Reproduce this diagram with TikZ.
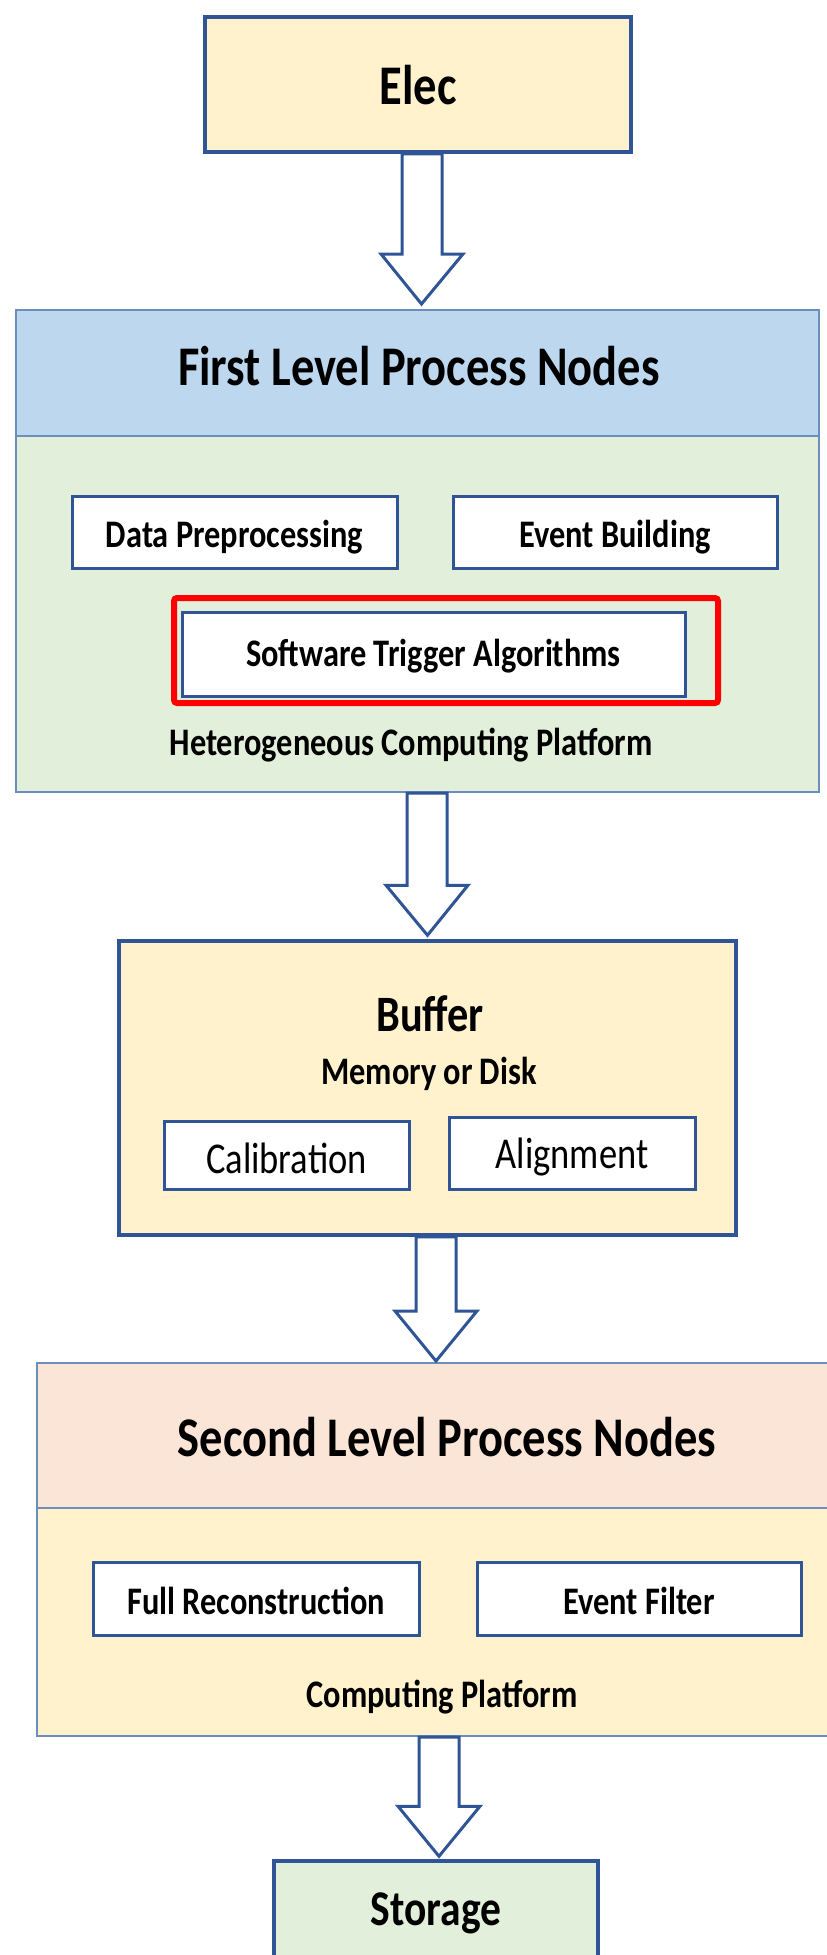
\documentclass[tikz,border=0pt]{standalone}
\usepackage{fontspec}
\setmainfont{Carlito}[FakeStretch=0.83]
\usetikzlibrary{calc}
\definecolor{dkblue}{HTML}{2F5597}
\definecolor{midblue}{HTML}{6C8EBF}
\definecolor{ltblue}{HTML}{BDD7EE}
\definecolor{ltgreen}{HTML}{E2EFDA}
\definecolor{ltyellow}{HTML}{FFF2CC}
\definecolor{ltorange}{HTML}{FBE5D6}

\begin{document}
\begin{tikzpicture}[x=1pt,y=-1pt,
   blk/.style={draw=dkblue,line width=3.5pt,inner sep=0pt,text height=39pt,text depth=0pt,
     font=\fontsize{56}{60}\selectfont\bfseries},
   grp/.style={draw=midblue,line width=2pt,inner sep=0pt},
   sub/.style={draw=dkblue,fill=white,line width=3pt,inner sep=0pt,text height=30pt,text depth=0pt,
     font=\fontsize{39}{44}\selectfont\bfseries},
   ttl/.style={anchor=base,inner sep=0pt,font=\fontsize{56}{60}\selectfont\bfseries},
   lbl/.style={anchor=base,inner sep=0pt,font=\fontsize{39}{44}\selectfont\bfseries},
   arr/.style={draw=dkblue,fill=white,line width=3pt,
     to path={let \p1=(\tikztostart), \p2=(\tikztotarget) in
       (\x1-20pt,\y1) -- (\x1-20pt,\y2+50pt) -- (\x1-41pt,\y2+50pt) -- (\x2,\y2)
       -- (\x1+41pt,\y2+50pt) -- (\x1+20pt,\y2+50pt) -- (\x1+20pt,\y1) -- cycle}}]
  \useasboundingbox (0,0) rectangle (827,1955);
  \node[blk,fill=ltyellow,minimum width=426pt,minimum height=135pt] (elec) at (418,84.5) {Elec};

  \node[grp,fill=ltblue,minimum width=803pt,minimum height=126pt] (fhead) at (417.5,373) {};
  \node[grp,fill=ltgreen,minimum width=803pt,minimum height=356pt] (fbody) at (417.5,614) {};
  \node[ttl] (ftitle) at (419,385) {First Level Process Nodes};
  \node[sub,minimum width=325pt,minimum height=72pt] (prep) at (234.5,532) {Data Preprocessing};
  \node[sub,minimum width=324pt,minimum height=72pt] (evb) at (615,532) {Event Building};
  \node[draw=red,line width=6pt,rounded corners=3pt,minimum width=544pt,minimum height=105pt] (hilite) at (446,650.5) {};
  \node[sub,text height=25pt,minimum width=503pt,minimum height=84pt] (trig) at (433.5,654) {Software Trigger Algorithms};
  \node[lbl] (hcp) at (411,755) {Heterogeneous Computing Platform};

  \node[blk,fill=ltyellow,minimum width=617pt,minimum height=294pt] (buf) at (427.5,1088) {};
  \node[ttl,font=\fontsize{51}{56}\selectfont\bfseries] (buftitle) at (430,1031) {Buffer};
  \node[lbl] (mem) at (429,1084) {Memory or Disk};
  \node[sub,font=\fontsize{44}{48}\selectfont,text height=36pt,minimum width=245pt,minimum height=68pt] (calib) at (286.5,1155) {Calibration};
  \node[sub,font=\fontsize{44}{48}\selectfont,text height=30pt,minimum width=246pt,minimum height=72pt] (align) at (572,1153) {Alignment};

  \node[grp,fill=ltorange,minimum width=792pt,minimum height=145pt] (shead) at (433,1435.5) {};
  \node[grp,fill=ltyellow,minimum width=792pt,minimum height=228pt] (sbody) at (433,1622) {};
  \node[ttl] (stitle) at (447,1456) {Second Level Process Nodes};
  \node[sub,text height=31pt,minimum width=326pt,minimum height=73pt] (reco) at (256,1598.5) {Full Reconstruction};
  \node[sub,text height=31pt,minimum width=324pt,minimum height=73pt] (filt) at (639,1598.5) {Event Filter};
  \node[lbl] (cp) at (442,1707) {Computing Platform};

  \node[blk,fill=ltgreen,font=\fontsize{50}{54}\selectfont\bfseries,text height=28pt,minimum width=324pt,minimum height=100pt] (stor) at (436,1911) {Storage};

  \draw[arr] ([xshift=4pt]elec.south) to ([xshift=4pt,yshift=5pt]fhead.north);
  \draw[arr] ([xshift=9.5pt]fbody.south) to ([yshift=4pt]buf.north);
  \draw[arr] ([xshift=8.5pt]buf.south) to ([xshift=3pt,yshift=1pt]shead.north);
  \draw[arr] ([xshift=6pt]sbody.south) to ([xshift=3pt,yshift=3pt]stor.north);
\end{tikzpicture}
\end{document}
